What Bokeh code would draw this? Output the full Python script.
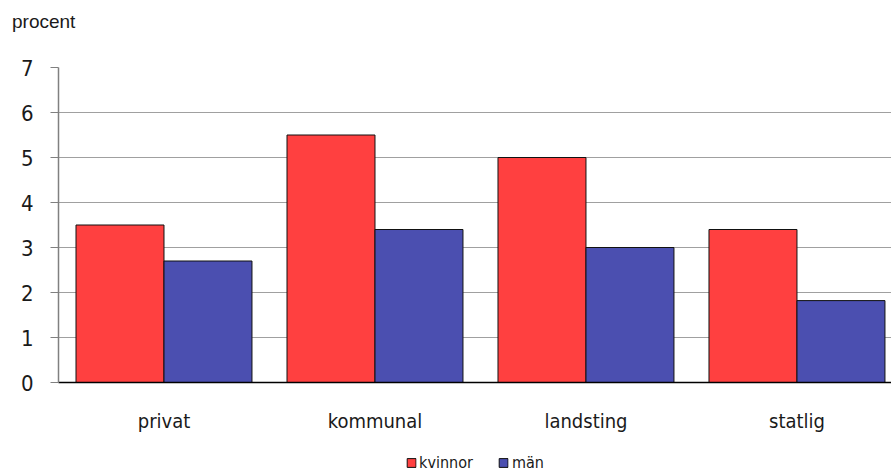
from bokeh.plotting import figure
from bokeh.layouts import column
from bokeh.models import Range1d, FixedTicker, Legend, LegendItem, ColumnDataSource, Div
from bokeh.embed import file_html
from bokeh.resources import INLINE

categories = ["privat", "kommunal", "landsting", "statlig"]
kvinnor = [3.5, 5.5, 5.0, 3.4]
man = [2.7, 3.4, 3.0, 1.82]
y_ticks = [0, 1, 2, 3, 4, 5, 6, 7]
series_labels = ["kvinnor", "män"]
series_colors = ["#FF4040", "#4B4FB0"]

pos = [i + 0.5 for i in range(len(categories))]
bw = 0.417
font = "DejaVu Sans Condensed"

title = Div(text="procent", width=300, height=34, margin=(0, 0, 0, 0),
            styles={"font-family": "Liberation Sans, Arial, sans-serif", "font-size": "19px",
                    "color": "#1a1a1a", "padding-left": "12px", "padding-top": "11px",
                    "line-height": "22px", "box-sizing": "border-box"})

p = figure(width=891, height=414, output_backend="svg", toolbar_location=None,
           x_range=Range1d(0, 3.948), y_range=Range1d(0, 7))
p.min_border_left = 58
p.min_border_right = 0
p.min_border_top = 33
p.min_border_bottom = 66
p.outline_line_color = None
p.background_fill_color = "white"
p.border_fill_color = "white"

src_k = ColumnDataSource(dict(x=[x - bw / 2 for x in pos], top=kvinnor))
src_m = ColumnDataSource(dict(x=[x + bw / 2 for x in pos], top=man))
for src, col in zip([src_k, src_m], series_colors):
    p.vbar(x="x", top="top", width=bw, bottom=0, source=src,
           fill_color=col, line_color="#111111", line_width=1)

p.xgrid.visible = False
p.ygrid.grid_line_color = "#a0a0a0"
p.ygrid.grid_line_width = 1.2
p.ygrid.ticker = FixedTicker(ticks=y_ticks)

p.yaxis.ticker = FixedTicker(ticks=y_ticks)
p.yaxis.axis_line_color = "#808080"
p.yaxis.axis_line_width = 1.5
p.yaxis.major_tick_line_color = "#808080"
p.yaxis.major_tick_out = 8
p.yaxis.major_tick_in = 0
p.yaxis.minor_tick_line_color = None
p.yaxis.major_label_text_font = font
p.yaxis.major_label_text_font_size = "22px"
p.yaxis.major_label_text_color = "#1a1a1a"
p.yaxis.major_label_standoff = 17

p.xaxis.ticker = FixedTicker(ticks=pos)
p.xaxis.major_label_overrides = {x: c for x, c in zip(pos, categories)}
p.xaxis.axis_line_color = "#000000"
p.xaxis.axis_line_width = 1.5
p.xaxis.major_tick_line_color = None
p.xaxis.minor_tick_line_color = None
p.xaxis.major_label_text_font = font
p.xaxis.major_label_text_font_size = "20px"
p.xaxis.major_label_text_color = "#1a1a1a"
p.xaxis.major_label_standoff = 20

# legend strip below the chart (its swatch renderers sit outside its view)
lf = figure(width=891, height=26, output_backend="svg", toolbar_location=None,
            x_range=Range1d(100, 101), y_range=Range1d(100, 101),
            x_axis_type=None, y_axis_type=None)
lf.min_border = 0
lf.outline_line_color = None
lf.background_fill_color = "white"
lf.border_fill_color = "white"
items = []
for src, col, lab in zip([src_k, src_m], series_colors, series_labels):
    r = lf.vbar(x="x", top="top", width=bw, bottom=0, source=src,
                fill_color=col, line_color="#111111", line_width=1)
    items.append(LegendItem(label=lab, renderers=[r]))

legend = Legend(items=items, orientation="horizontal", location="bottom")
legend.label_text_font = font
legend.label_text_font_size = "16px"
legend.label_text_color = "#1a1a1a"
legend.label_height = 14
legend.glyph_width = 11
legend.glyph_height = 11
legend.label_standoff = 3
legend.spacing = 25
legend.padding = 0
legend.margin = 2
legend.border_line_color = None
legend.background_fill_alpha = 0
lf.add_layout(legend, "center")

layout = column(title, p, lf, spacing=0)
open("out.html", "w").write(file_html(layout, INLINE))
